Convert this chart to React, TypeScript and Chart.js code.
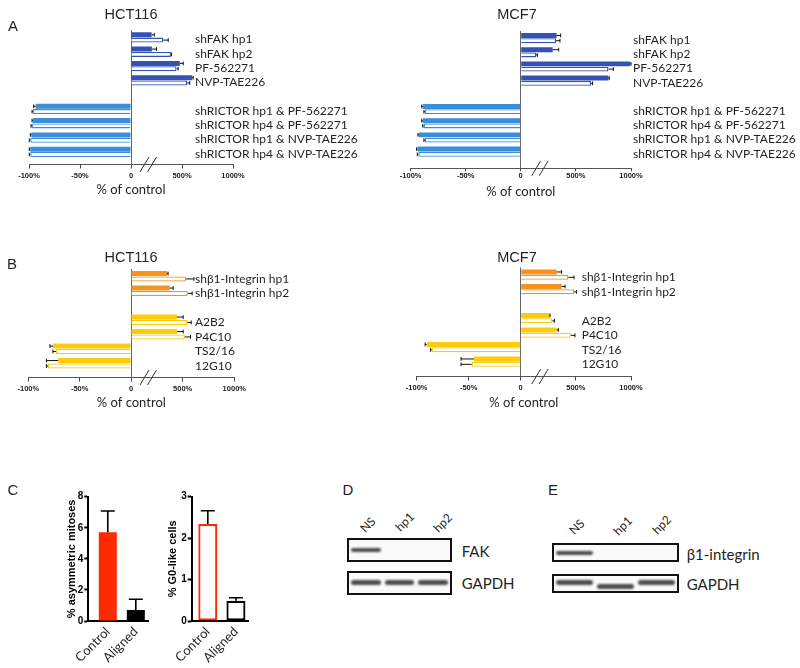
import React, { useEffect, useRef } from 'react';
import { Chart, registerables } from 'chart.js';

Chart.register(...registerables);

// ---------------- data ----------------
const X_TICK_LABELS = ['-100%', '-50%', '0', '500%', '1000%'];
const X_TITLE = '% of control';

const A_CATEGORIES = [
  'shFAK hp1', 'shFAK hp2', 'PF-562271', 'NVP-TAE226', '',
  'shRICTOR hp1 & PF-562271', 'shRICTOR hp4 & PF-562271',
  'shRICTOR hp1 & NVP-TAE226', 'shRICTOR hp4 & NVP-TAE226',
];
const A_GROUPS = ['fak', 'fak', 'fak', 'fak', '', 'rictor', 'rictor', 'rictor', 'rictor'];

const A_HCT_FILLED = [202, 205, 479, 600, 0, -93.4, -96, -97.7, -98.7];
const A_HCT_FILLED_ERR = [26, 45, 33, 10, 0, 2, 1, 1, 1];
const A_HCT_OPEN = [316, 391, 446, 550, 0, -96, -97, -98.7, -98.7];
const A_HCT_OPEN_ERR = [49, 6, 16, 26, 0, 1, 1, 1, 1];

const A_MCF_FILLED = [326, 290, 991, 795, 0, -89, -89, -92.4, -93.6];
const A_MCF_FILLED_ERR = [36, 54, 9, 8, 0, 1, 1, 1, 1];
const A_MCF_OPEN = [320, 139, 795, 637, 0, -87, -88, -87, -93];
const A_MCF_OPEN_ERR = [36, 12, 45, 15, 0, 1, 1, 1, 1];

const B_CATEGORIES = ['shβ1-Integrin hp1', 'shβ1-Integrin hp2', '', 'A2B2', 'P4C10', 'TS2/16', '12G10'];
const B_GROUPS = ['sh', 'sh', '', 'ab', 'ab', 'ab', 'ab'];

const B_HCT_FILLED = [349, 375, 0, 446, 446, -75.9, -71];
const B_HCT_FILLED_ERR = [10, 33, 0, 59, 59, 3, 11.4];
const B_HCT_OPEN = [534, 550, 0, 544, 521, -73, -80.8];
const B_HCT_OPEN_ERR = [75, 42, 0, 39, 55, 3, 1.6];

const B_MCF_FILLED = [326, 372, 0, 260, 326, -90.4, -44.9];
const B_MCF_FILLED_ERR = [45, 30, 0, 6, 15, 1.5, 12.5];
const B_MCF_OPEN = [432, 483, 0, 287, 453, -85.6, -47.1];
const B_MCF_OPEN_ERR = [51, 24, 0, 18, 39, 1, 10.3];

const C_CATEGORIES = ['Control', 'Aligned'];
const C_ASYM = [5.71, 0.71];
const C_ASYM_ERR = [1.37, 0.69];
const C_ASYM_TICKS = [0, 2, 4, 6, 8];
const C_G0 = [2.34, 0.49];
const C_G0_ERR = [0.32, 0.07];
const C_G0_TICKS = [0, 1, 2, 3];

const D_LANES = ['NS', 'hp1', 'hp2'];
const D_FAK = [1, 0, 0];
const D_GAPDH = [1, 1, 1];
const E_LANES = ['NS', 'hp1', 'hp2'];
const E_ITGB1 = [1, 0, 0];
const E_GAPDH = [1, 1, 1];

// ---------------- styles / layout ----------------
const GROUP_COLORS: Record<string, string> = {
  fak: '#3452b4',
  rictor: '#3b8edb',
  sh: '#f7921e',
  ab: '#fdcb0c',
};
const C_RED = '#ff2a00';
const TEXT = '#231f20';

type HLayout = {
  box: { left: number; top: number; width: number; height: number };
  chartLeft: number; chartTop: number; axisY: number;
  negW: number; posW: number; pitch: number;
  tickLen: number; tickPad: number; titlePadBottom: number;
  labelDx: number; labelDy: number; breakDx: number;
};

const A_HCT_LAYOUT: HLayout = {
  box: { left: 0, top: 0, width: 385, height: 200 },
  chartLeft: 29, chartTop: 30.3, axisY: 164.5, negW: 102, posW: 102, pitch: 14.3,
  tickLen: 4, tickPad: 3, titlePadBottom: 2.2, labelDx: 64, labelDy: 2, breakDx: 9,
};
const A_MCF_LAYOUT: HLayout = {
  box: { left: 385, top: 0, width: 415, height: 200 },
  chartLeft: 410.7, chartTop: 31, axisY: 168.3, negW: 110, posW: 110.3, pitch: 14.2,
  tickLen: 3, tickPad: 0.5, titlePadBottom: 0, labelDx: 112.3, labelDy: 2, breakDx: 11,
};
const B_HCT_LAYOUT: HLayout = {
  box: { left: 0, top: 240, width: 385, height: 172 },
  chartLeft: 28.3, chartTop: 269, axisY: 377.5, negW: 102.7, posW: 103.3, pitch: 14.5,
  tickLen: 4, tickPad: 2.5, titlePadBottom: 0.9, labelDx: 64, labelDy: 2.5, breakDx: 9,
};
const B_MCF_LAYOUT: HLayout = {
  box: { left: 385, top: 240, width: 415, height: 172 },
  chartLeft: 416.7, chartTop: 267.4, axisY: 376.5, negW: 104, posW: 110.3, pitch: 14.5,
  tickLen: 4, tickPad: 3, titlePadBottom: 1, labelDx: 61, labelDy: 2.5, breakDx: 11,
};

type VLayout = {
  box: { left: number; top: number; width: number; height: number };
  chartLeft: number; chartRight: number; chartTop: number; axisY: number;
  xMin: number; xMax: number; barFrac: number; titlePadTop: number;
};
const C_ASYM_LAYOUT: VLayout = {
  box: { left: 60, top: 486, width: 100, height: 182 },
  chartLeft: 88.3, chartRight: 148.3, chartTop: 496.7, axisY: 621,
  xMin: -0.696, xMax: 1.446, barFrac: 0.643, titlePadTop: 5.1,
};
const C_G0_LAYOUT: VLayout = {
  box: { left: 160, top: 486, width: 100, height: 182 },
  chartLeft: 191.7, chartRight: 248.3, chartTop: 496.7, axisY: 621,
  xMin: -0.573, xMax: 1.44, barFrac: 0.676, titlePadTop: 6.4,
};

// ---------------- horizontal bar panel ----------------
function HBarChart(props: {
  layout: HLayout; categories: string[]; groups: string[];
  filled: number[]; filledErr: number[]; open: number[]; openErr: number[];
}) {
  const ref = useRef<HTMLCanvasElement>(null);
  const { layout: L } = props;
  useEffect(() => {
    const { categories, groups, filled, filledErr, open, openErr } = props;
    const t = (v: number) => (v < 0 ? (v / 100) * L.negW : (v / 1000) * L.posW);
    const errEnd = (v: number, e: number) => t(v < 0 ? v - e : v + e);
    const idx = categories.map((_, i) => i).filter((i) => categories[i] !== '');
    const padLeft = L.chartLeft - L.box.left;
    const padRight = L.box.width - padLeft - L.negW - L.posW;
    const padTop = L.chartTop - L.box.top;
    const axisH = L.box.top + L.box.height - L.axisY;
    const yMax = -0.5 + (L.axisY - L.chartTop) / L.pitch;

    const decor = {
      id: 'decor',
      afterDatasetsDraw(chart: any) {
        const ctx = chart.ctx;
        const xs = chart.scales.x;
        const ys = chart.scales.y;
        ctx.save();
        ctx.strokeStyle = '#111';
        ctx.lineWidth = 1;
        chart.data.datasets.forEach((ds: any, di: number) => {
          const meta = chart.getDatasetMeta(di);
          meta.data.forEach((el: any, j: number) => {
            const end = xs.getPixelForValue(ds.errEnd[j]);
            const y = el.y;
            const h = el.height * 0.38;
            ctx.beginPath();
            ctx.moveTo(el.x, y);
            ctx.lineTo(end, y);
            ctx.moveTo(end, y - h);
            ctx.lineTo(end, y + h);
            ctx.stroke();
          });
        });
        const zero = xs.getPixelForValue(0);
        ctx.fillStyle = TEXT;
        ctx.font = '12px Lato';
        ctx.textBaseline = 'middle';
        ctx.textAlign = 'left';
        idx.forEach((i) => ctx.fillText(categories[i], zero + L.labelDx, ys.getPixelForValue(i) + L.labelDy));
        const ay = chart.chartArea.bottom;
        ctx.strokeStyle = '#333';
        ctx.lineWidth = 1;
        [0, 7.5].forEach((o) => {
          const x0 = zero + L.breakDx + o;
          ctx.beginPath();
          ctx.moveTo(x0, ay + 7.5);
          ctx.lineTo(x0 + 9, ay - 7.5);
          ctx.stroke();
        });
        ctx.restore();
      },
    };

    const chart = new Chart(ref.current as HTMLCanvasElement, {
      type: 'bar',
      data: {
        datasets: [
          {
            data: idx.map((i) => ({ x: t(filled[i]), y: i })),
            backgroundColor: idx.map((i) => GROUP_COLORS[groups[i]]),
            borderWidth: 0,
            errEnd: idx.map((i) => errEnd(filled[i], filledErr[i])),
          } as any,
          {
            data: idx.map((i) => ({ x: t(open[i]), y: i })),
            backgroundColor: '#ffffff',
            borderColor: idx.map((i) => GROUP_COLORS[groups[i]]),
            borderWidth: 1.3,
            errEnd: idx.map((i) => errEnd(open[i], openErr[i])),
          } as any,
        ],
      },
      options: {
        indexAxis: 'y',
        responsive: false,
        animation: false,
        layout: { padding: { left: padLeft, right: padRight, top: padTop, bottom: 0 } },
        datasets: { bar: { categoryPercentage: 0.74, barPercentage: 0.94 } },
        plugins: { legend: { display: false }, tooltip: { enabled: false } },
        scales: {
          x: {
            type: 'linear',
            min: -L.negW,
            max: L.posW,
            offset: false,
            afterBuildTicks: (s: any) => {
              s.ticks = [-L.negW, -L.negW / 2, 0, L.posW / 2, L.posW].map((value) => ({ value }));
            },
            afterFit: (s: any) => { s.height = axisH; },
            ticks: {
              callback: (_v: any, i: number) => X_TICK_LABELS[i],
              font: { family: 'Liberation Sans', weight: 'bold', size: 7.5 },
              color: '#222',
              padding: L.tickPad,
              maxRotation: 0,
              autoSkip: false,
            },
            grid: {
              color: (c: any) => (c.tick && c.tick.value === 0 ? '#666' : 'rgba(0,0,0,0)'),
              tickColor: '#444',
              tickLength: L.tickLen,
              lineWidth: 1,
              offset: false,
            },
            border: { display: true, color: '#555', width: 1 },
            title: {
              display: true,
              text: X_TITLE,
              font: { family: 'Lato', size: 13 },
              color: TEXT,
              padding: { top: 0, bottom: L.titlePadBottom },
            },
          } as any,
          y: {
            type: 'linear',
            min: -0.5,
            max: yMax,
            reverse: true,
            offset: false,
            display: false,
            grid: { offset: false },
            afterBuildTicks: (s: any) => { s.ticks = idx.map((value) => ({ value })); },
          } as any,
        },
      },
      plugins: [decor],
    });
    return () => chart.destroy();
  }, []);
  return (
    <canvas
      ref={ref}
      width={L.box.width}
      height={L.box.height}
      style={{ position: 'absolute', left: L.box.left, top: L.box.top, width: L.box.width, height: L.box.height }}
    />
  );
}

// ---------------- vertical bar panel ----------------
function VBarChart(props: {
  layout: VLayout; categories: string[]; values: number[]; errors: number[];
  ticks: number[]; title: string; fills: string[]; borders: string[]; borderWidth: number;
}) {
  const ref = useRef<HTMLCanvasElement>(null);
  const { layout: L } = props;
  useEffect(() => {
    const { categories, values, errors, ticks, title, fills, borders, borderWidth } = props;
    const yAxisW = L.chartLeft - L.box.left;
    const padRight = L.box.left + L.box.width - L.chartRight;
    const padTop = L.chartTop - L.box.top;
    const xAxisH = L.box.top + L.box.height - L.axisY;

    const err = {
      id: 'err',
      afterDatasetsDraw(chart: any) {
        const ctx = chart.ctx;
        const ys = chart.scales.y;
        ctx.save();
        ctx.strokeStyle = '#000';
        ctx.lineWidth = 1.6;
        chart.getDatasetMeta(0).data.forEach((el: any, j: number) => {
          const top = ys.getPixelForValue(values[j] + errors[j]);
          ctx.beginPath();
          ctx.moveTo(el.x, el.y);
          ctx.lineTo(el.x, top);
          ctx.moveTo(el.x - 7, top);
          ctx.lineTo(el.x + 7, top);
          ctx.stroke();
        });
        ctx.restore();
      },
    };

    const chart = new Chart(ref.current as HTMLCanvasElement, {
      type: 'bar',
      data: {
        datasets: [
          {
            data: values.map((v, i) => ({ x: i, y: v })),
            backgroundColor: fills,
            borderColor: borders,
            borderWidth,
            borderSkipped: false,
          } as any,
        ],
      },
      options: {
        responsive: false,
        animation: false,
        layout: { padding: { left: 0, right: padRight, top: padTop, bottom: 0 } },
        datasets: { bar: { categoryPercentage: 1, barPercentage: L.barFrac } },
        plugins: { legend: { display: false }, tooltip: { enabled: false } },
        scales: {
          x: {
            type: 'linear',
            min: L.xMin,
            max: L.xMax,
            offset: false,
            afterBuildTicks: (s: any) => { s.ticks = categories.map((_, i) => ({ value: i })); },
            afterFit: (s: any) => { s.height = xAxisH; },
            ticks: {
              callback: (_v: any, i: number) => categories[i],
              minRotation: 45,
              maxRotation: 45,
              autoSkip: false,
              font: { family: 'Lato', size: 13 },
              color: TEXT,
              padding: 3,
            },
            grid: { display: false, drawTicks: false, offset: false },
            border: { display: true, color: '#000', width: 2 },
          } as any,
          y: {
            type: 'linear',
            min: 0,
            max: ticks[ticks.length - 1],
            afterBuildTicks: (s: any) => { s.ticks = ticks.map((value) => ({ value })); },
            afterFit: (s: any) => { s.width = yAxisW; },
            ticks: {
              font: { family: 'Liberation Sans', weight: 'bold', size: 10 },
              color: '#000',
              padding: 1,
            },
            grid: { drawOnChartArea: false, drawTicks: true, tickLength: 4, tickWidth: 2, tickColor: '#000' },
            border: { display: true, color: '#000', width: 2 },
            title: {
              display: true,
              text: title,
              font: { family: 'Liberation Sans', weight: 'bold', size: 11 },
              color: '#000',
              padding: { top: L.titlePadTop, bottom: 0 },
            },
          } as any,
        },
      },
      plugins: [err],
    });
    return () => chart.destroy();
  }, []);
  return (
    <canvas
      ref={ref}
      width={L.box.width}
      height={L.box.height}
      style={{ position: 'absolute', left: L.box.left, top: L.box.top, width: L.box.width, height: L.box.height }}
    />
  );
}

// ---------------- blots ----------------
function Blot(props: { left: number; top: number; width: number; height: number; bands: number[]; thick: number; dy?: number[] }) {
  const { left, top, width, height, bands, thick, dy } = props;
  const inner = width - 5;
  const laneW = inner / bands.length;
  return (
    <div
      style={{
        position: 'absolute', left, top, width: width - 5, height: height - 5,
        border: '2.5px solid #111', background: '#fafafa', overflow: 'hidden',
      }}
    >
      {bands.map((b, i) =>
        b > 0 ? (
          <div
            key={i}
            style={{
              position: 'absolute',
              left: i * laneW + 2,
              width: laneW - 4,
              top: (height - 5) / 2 - thick / 2 + (dy ? dy[i] : 0),
              height: thick,
              borderRadius: thick / 2,
              background: `rgba(45,45,45,${0.85 * b})`,
              filter: 'blur(1px)',
            }}
          />
        ) : null,
      )}
    </div>
  );
}

function Txt(props: { x: number; y: number; text: string; size: number; family?: string; anchor?: 'left' | 'center'; rotate?: number; weight?: string }) {
  const { x, y, text, size, family, anchor, rotate, weight } = props;
  const tx = anchor === 'center' ? '-50%' : '0';
  return (
    <div
      style={{
        position: 'absolute', left: x, top: y, whiteSpace: 'nowrap', fontSize: size,
        fontFamily: family || 'Lato', fontWeight: weight || 'normal', color: TEXT, lineHeight: 1,
        transform: `translate(${tx}, -50%)${rotate ? ` rotate(${rotate}deg)` : ''}`,
      }}
    >
      {text}
    </div>
  );
}

export default function App() {
  const arial = 'Liberation Sans';
  return (
    <div style={{ position: 'absolute', left: 0, top: 0, width: 800, height: 668, background: '#fff', overflow: 'hidden' }}>
      <HBarChart layout={A_HCT_LAYOUT} categories={A_CATEGORIES} groups={A_GROUPS}
        filled={A_HCT_FILLED} filledErr={A_HCT_FILLED_ERR} open={A_HCT_OPEN} openErr={A_HCT_OPEN_ERR} />
      <HBarChart layout={A_MCF_LAYOUT} categories={A_CATEGORIES} groups={A_GROUPS}
        filled={A_MCF_FILLED} filledErr={A_MCF_FILLED_ERR} open={A_MCF_OPEN} openErr={A_MCF_OPEN_ERR} />
      <HBarChart layout={B_HCT_LAYOUT} categories={B_CATEGORIES} groups={B_GROUPS}
        filled={B_HCT_FILLED} filledErr={B_HCT_FILLED_ERR} open={B_HCT_OPEN} openErr={B_HCT_OPEN_ERR} />
      <HBarChart layout={B_MCF_LAYOUT} categories={B_CATEGORIES} groups={B_GROUPS}
        filled={B_MCF_FILLED} filledErr={B_MCF_FILLED_ERR} open={B_MCF_OPEN} openErr={B_MCF_OPEN_ERR} />
      <VBarChart layout={C_ASYM_LAYOUT} categories={C_CATEGORIES} values={C_ASYM} errors={C_ASYM_ERR}
        ticks={C_ASYM_TICKS} title="% asymmetric mitoses" fills={[C_RED, '#000000']} borders={[C_RED, '#000000']} borderWidth={0} />
      <VBarChart layout={C_G0_LAYOUT} categories={C_CATEGORIES} values={C_G0} errors={C_G0_ERR}
        ticks={C_G0_TICKS} title="% G0-like cells" fills={['#ffffff', '#ffffff']} borders={[C_RED, '#000000']} borderWidth={2.2} />

      <Txt x={13} y={25} text="A" size={15} family={arial} anchor="center" />
      <Txt x={12} y={263} text="B" size={15} family={arial} anchor="center" />
      <Txt x={13} y={489} text="C" size={15} family={arial} anchor="center" />
      <Txt x={348} y={489} text="D" size={15} family={arial} anchor="center" />
      <Txt x={553} y={489} text="E" size={15} family={arial} anchor="center" />

      <Txt x={131} y={13.5} text="HCT116" size={14.5} family={arial} anchor="center" />
      <Txt x={517} y={13.5} text="MCF7" size={14.5} family={arial} anchor="center" />
      <Txt x={131} y={257} text="HCT116" size={14.5} family={arial} anchor="center" />
      <Txt x={517} y={257} text="MCF7" size={14.5} family={arial} anchor="center" />

      {D_LANES.map((l, i) => (
        <Txt key={'d' + i} x={[367.5, 405, 443][i]} y={[525, 522, 523][i]} text={l} size={12} anchor="center" rotate={-45} />
      ))}
      <Blot left={346.7} top={538.3} width={106.6} height={24.3} bands={D_FAK} thick={4} />
      <Blot left={346.7} top={570.5} width={106.6} height={25} bands={D_GAPDH} thick={5} />
      <Txt x={461.7} y={551} text="FAK" size={15} />
      <Txt x={461.7} y={583} text="GAPDH" size={15} />

      {E_LANES.map((l, i) => (
        <Txt key={'e' + i} x={[577, 623, 662][i]} y={[527, 526, 525][i]} text={l} size={12} anchor="center" rotate={-45} />
      ))}
      <Blot left={551.7} top={543.3} width={128.3} height={20} bands={E_ITGB1} thick={4} />
      <Blot left={551.7} top={574} width={128.3} height={20.3} bands={E_GAPDH} thick={5} dy={[-1, 3, -1]} />
      <Txt x={686.7} y={554} text="β1-integrin" size={15} />
      <Txt x={686.7} y={584} text="GAPDH" size={15} />
    </div>
  );
}
